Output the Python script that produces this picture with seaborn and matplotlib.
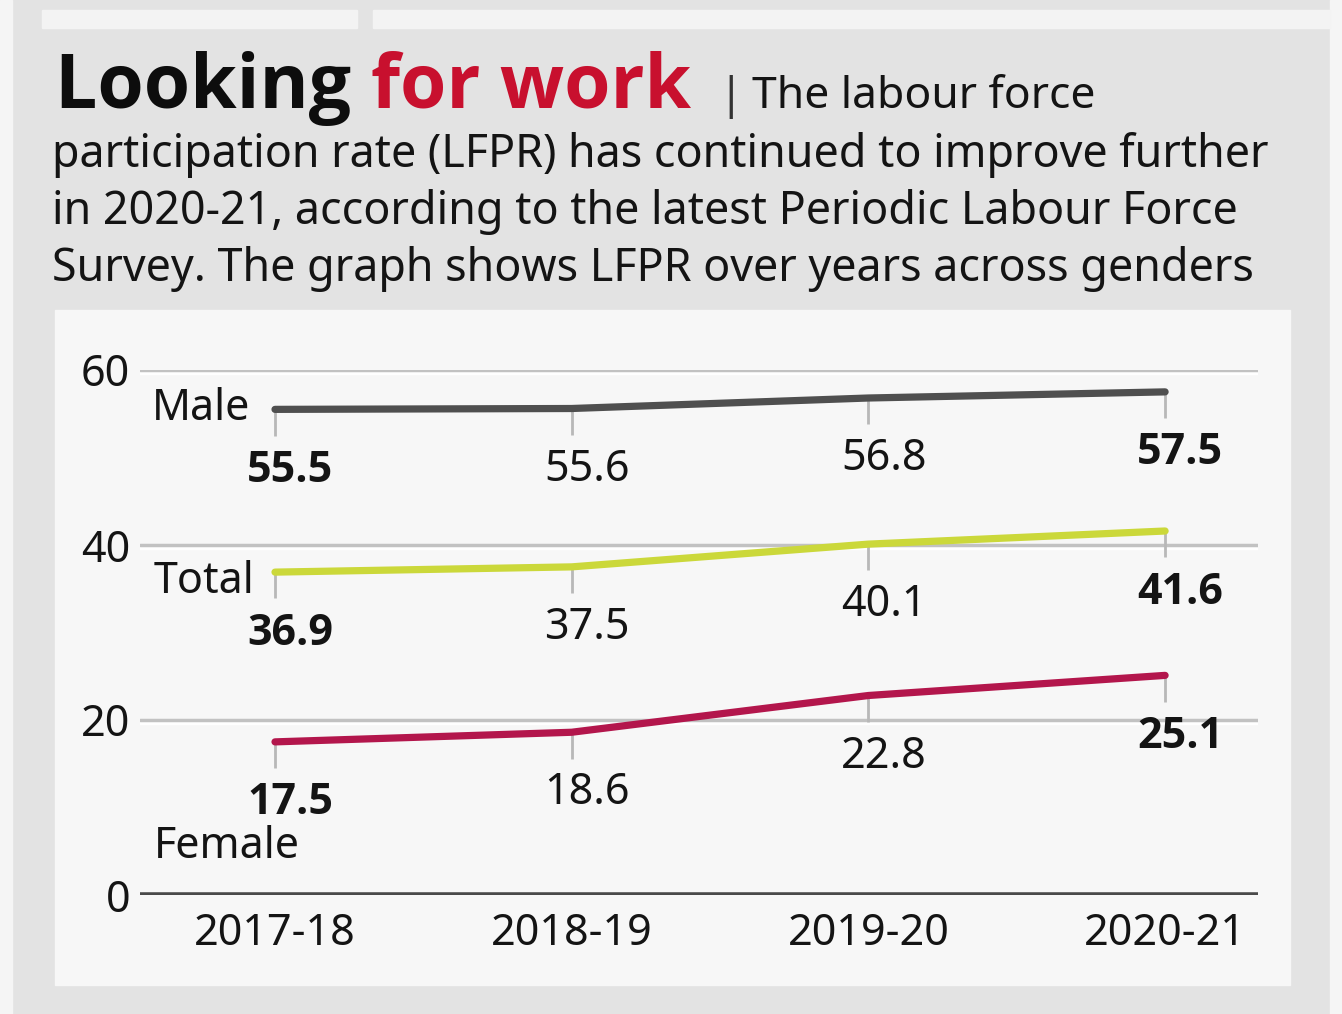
import matplotlib
matplotlib.use("Agg")
import matplotlib.pyplot as plt
import seaborn as sns
import pandas as pd
from matplotlib.patches import Rectangle

years = ["2017-18", "2018-19", "2019-20", "2020-21"]
male = [55.5, 55.6, 56.8, 57.5]
total = [36.9, 37.5, 40.1, 41.6]
female = [17.5, 18.6, 22.8, 25.1]
series_names = ["Male", "Total", "Female"]
yticks = [0, 20, 40, 60]

colors = {"Male": "#4f4f4f", "Total": "#cbd83a", "Female": "#b3164c"}

sns.set_theme(style="white")
plt.rcParams["font.family"] = ["Noto Sans", "DejaVu Sans"]
REG_FAM = ["Noto Sans", "DejaVu Sans"]
BOLD_FAM = ["Open Sans", "Lato", "DejaVu Sans"]
TXT = "#141414"

df = pd.DataFrame({
    "year": years * 3,
    "value": male + total + female,
    "series": [s for s in series_names for _ in years],
})

W, H = 1342, 1014
fig = plt.figure(figsize=(W / 100, H / 100), dpi=100, facecolor="#e3e3e3")

def px_rect(x0, y0, x1, y1, color):
    fig.patches.append(Rectangle((x0 / W, 1 - y1 / H), (x1 - x0) / W, (y1 - y0) / H,
                                 transform=fig.transFigure, color=color, zorder=-5))

# background panels
px_rect(0, 0, 12, H, "#f5f5f5")
px_rect(1330, 0, W, H, "#f5f5f5")
px_rect(42, 10, 357, 28, "#f3f3f3")
px_rect(373, 10, 1330, 28, "#f3f3f3")
px_rect(55, 310, 1290, 985, "#f7f7f7")

# axes: x pixels 140..1258, y pixel 895 (0) .. 370 (60)
ax_l, ax_r, ax_b, ax_t = 140, 1258, 895, 370
ax = fig.add_axes([ax_l / W, 1 - ax_b / H, (ax_r - ax_l) / W, (ax_b - ax_t) / H])
ax.set_zorder(2)
ax.set_facecolor("none")

sns.lineplot(data=df, x="year", y="value", hue="series", palette=colors,
             linewidth=5.2, legend=False, ax=ax, sort=False, zorder=4)

sp = 296.7
ax.set_xlim(-(275 - ax_l) / sp, (ax_r - 275) / sp)
ax.set_ylim(0, 60)
ax.set_yticks(yticks)
ax.set_yticklabels([str(v) for v in yticks])
ax.tick_params(axis="y", length=0, pad=7, labelsize=31, labelcolor=TXT)
ax.tick_params(axis="x", length=0, pad=12, labelsize=31, labelcolor=TXT)
ax.set_xlabel("")
ax.set_ylabel("")
for s in ax.spines.values():
    s.set_visible(False)

for v in yticks[1:]:
    ax.axhline(v - 0.35, color="#ffffff", lw=2.5, zorder=1)
    ax.axhline(v, color="#c2c2c2", lw=2.5, zorder=1)
ax.axhline(0, color="#4a4a4a", lw=4, zorder=2)

xs = list(range(len(years)))
for name, vals in zip(series_names, [male, total, female]):
    ax.vlines(xs, [v - 3.0 for v in vals], vals, color="#b8b8b8", lw=2, zorder=3)
    for i, v in enumerate(vals):
        bold = i in (0, len(vals) - 1)
        ax.annotate(f"{v}", (i, v), xytext=(11, -44), textcoords="offset points",
                    ha="center", va="center", fontsize=31,
                    family=BOLD_FAM if bold else REG_FAM,
                    fontweight="bold" if bold else "normal", color=TXT, zorder=5)

# series labels
ax.annotate("Male", (0, male[0]), xytext=(-18, 0), textcoords="offset points",
            ha="right", va="center", fontsize=31, color=TXT)
ax.annotate("Total", (0, total[0]), xytext=(-15, -7), textcoords="offset points",
            ha="right", va="center", fontsize=31, color=TXT)
ax.annotate("Female", (0, female[0]), xytext=(-87, -76), textcoords="offset points",
            ha="left", va="center", fontsize=31, color=TXT)

# title block
def ftext(x, y, s, color=TXT, **kw):
    return fig.text(x / W, 1 - y / H, s, va="baseline", ha="left", color=color, **kw)

t1 = ftext(55, 108, "Looking ", fontsize=54, fontweight="bold", family=BOLD_FAM,
           color="#0d0d0d")
fig.canvas.draw()
bb = t1.get_window_extent()
t2 = fig.text(bb.x1 / W, 1 - 108 / H, "for work", va="baseline", ha="left",
              fontsize=54, fontweight="bold", family=BOLD_FAM, color="#c8102e")
ftext(718, 108, "|", fontsize=32, color="#333333")
ftext(752, 108, "The labour force", fontsize=32)
ftext(52, 167, "participation rate (LFPR) has continued to improve further", fontsize=32.3)
ftext(52, 224, "in 2020-21, according to the latest Periodic Labour Force", fontsize=32.3)
ftext(52, 281, "Survey. The graph shows LFPR over years across genders", fontsize=32.3)

fig.savefig("out.png", dpi=100, facecolor=fig.get_facecolor())
